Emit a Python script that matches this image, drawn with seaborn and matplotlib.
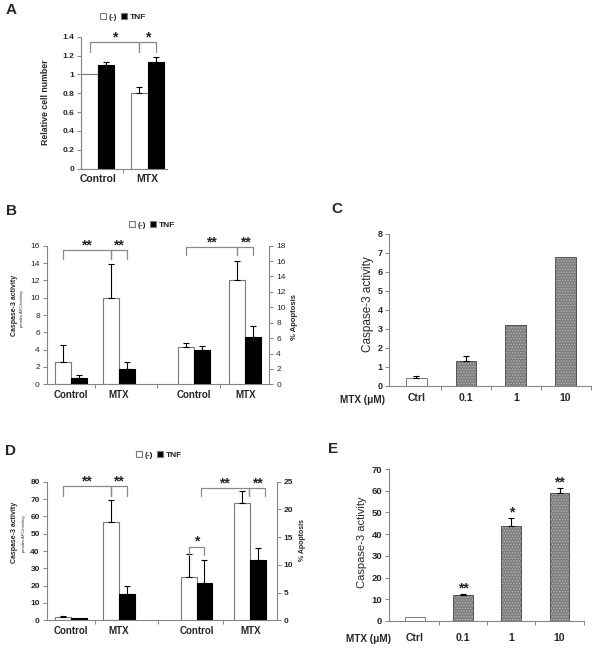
import matplotlib
matplotlib.use('Agg')
import matplotlib.pyplot as plt
import matplotlib.colors as mcolors
import numpy as np
import pandas as pd
import seaborn as sns

sns.set_theme(style='ticks')
plt.rcParams['font.family'] = ['Liberation Sans', 'DejaVu Sans']
plt.rcParams['font.weight'] = 'bold'
plt.rcParams['hatch.linewidth'] = 0.7

# ---------------- data ----------------
conditions = ['(-)', 'TNF']

# A: relative cell number
a_groups = ['Control', 'MTX']
a_pos = [0, 1]
a_neg = [1.00, 0.80]
a_neg_err = [0.0, 0.065]
a_tnf = [1.10, 1.13]
a_tnf_err = [0.03, 0.06]

# B: caspase-3 activity (left axis) and % apoptosis (right axis)
b_labels = ['Control', 'MTX', 'Control', 'MTX']
b_pos_casp = [0, 1]
b_casp_neg = [2.55, 9.95]
b_casp_neg_err = [2.0, 3.95]
b_casp_tnf = [0.70, 1.73]
b_casp_tnf_err = [0.38, 0.82]
b_pos_apop = [2.57, 3.63]
b_apop_neg = [4.9, 13.5]
b_apop_neg_err = [0.45, 2.5]
b_apop_tnf = [4.4, 6.2]
b_apop_tnf_err = [0.6, 1.4]

# C and E: MTX dose response
dose_labels = ['Ctrl', '0.1', '1', '10']
c_vals = [0.39, 1.29, 3.19, 6.77]
c_err = [0.12, 0.26, 0.0, 0.0]

# D
d_labels = ['Control', 'MTX', 'Control', 'MTX']
d_pos_casp = [0, 1]
d_casp_neg = [1.7, 56.5]
d_casp_neg_err = [0.6, 12.7]
d_casp_tnf = [1.5, 15.2]
d_casp_tnf_err = [0.0, 4.6]
d_pos_apop = [2.62, 3.74]
d_apop_neg = [7.75, 21.2]
d_apop_neg_err = [4.2, 2.1]
d_apop_tnf = [6.7, 10.9]
d_apop_tnf_err = [4.1, 2.2]

e_vals = [1.8, 11.8, 43.6, 58.9]
e_err = [0.0, 0.5, 4.0, 2.3]
e_stars = ['', '**', '*', '**']

# ---------------- style ----------------
W, H = 600, 650
SPINE = '#858585'
EDGE = '#7a7a7a'
BRACKET = '#8a8a8a'
GREY = '#7e7e7e'

fig = plt.figure(figsize=(W / 100, H / 100), dpi=100)


def px(x, y):
    return x / W, 1 - y / H


def new_ax(l, t, r, b):
    return fig.add_axes([l / W, 1 - b / H, (r - l) / W, (b - t) / H])


def style_ax(ax, ylabelsize=6, xlabelsize=7.5, xpad=4):
    for s in ['top', 'right']:
        ax.spines[s].set_visible(False)
    for s in ['left', 'bottom']:
        ax.spines[s].set_color(SPINE)
        ax.spines[s].set_linewidth(0.8)
    ax.tick_params(axis='y', direction='out', length=3, width=0.7, color=SPINE,
                   labelsize=ylabelsize, pad=2)
    ax.tick_params(axis='x', which='major', length=0, labelsize=xlabelsize, pad=xpad)
    ax.tick_params(axis='x', which='minor', direction='out', length=3, width=0.7,
                   color=SPINE)
    ax.set(xlabel='', ylabel='')


def real_bars(ax, start=0):
    # seaborn also parks empty legend handles on the axes; keep only drawn bars
    return sorted([p for p in ax.patches[start:] if p.get_width() > 0],
                  key=lambda p: p.get_x())


def pair_bars(ax, pos, neg, neg_err, tnf, tnf_err, legend=False):
    n = len(pos)
    df = pd.DataFrame({'pos': list(pos) * 2,
                       'cond': ['(-)'] * n + ['TNF'] * n,
                       'val': list(neg) + list(tnf),
                       'err': list(neg_err) + list(tnf_err)})
    width = 0.66 / min(np.diff(pos))
    sns.barplot(data=df, x='pos', y='val', hue='cond', hue_order=conditions,
                palette={'(-)': 'white', 'TNF': 'black'}, native_scale=True,
                width=width, errorbar=None, legend=legend, linewidth=0.8,
                edgecolor=EDGE, ax=ax)
    bars = real_bars(ax)
    df = df.sort_values(['pos', 'cond'])
    centers = []
    for p, (_, row) in zip(bars, df.iterrows()):
        xc = p.get_x() + p.get_width() / 2
        centers.append(xc)
        if row['cond'] == 'TNF':
            p.set_edgecolor('black')
        if row['err'] > 0:
            ax.errorbar(xc, p.get_height(), yerr=[[0], [row['err']]], fmt='none',
                        ecolor='black', elinewidth=0.8, capsize=2.2, capthick=0.8)
    return centers


def bracket(ax, x0, x1, lo, hi, stars, size=10):
    ax.plot([x0, x0, x1, x1], [lo, hi, hi, lo], color=BRACKET, lw=0.9, clip_on=False)
    ax.annotate(stars, ((x0 + x1) / 2, hi), xytext=(0, -1.5), textcoords='offset points',
                ha='center', va='bottom', fontsize=size, fontweight='bold',
                annotation_clip=False)


def legend_at(ax, x, y):
    sns.move_legend(ax, 'center', bbox_to_anchor=px(x, y), bbox_transform=fig.transFigure,
                    ncol=2, title=None, frameon=False,
                    prop={'weight': 'bold', 'size': 6},
                    handlelength=0.75, handleheight=0.75, handletextpad=0.3,
                    columnspacing=0.5, borderpad=0)


def dose_bars(ax, vals, errs, width):
    df = pd.DataFrame({'dose': dose_labels, 'val': vals, 'err': errs})
    sns.barplot(data=df, x='dose', y='val', hue='dose', order=dose_labels,
                hue_order=dose_labels, palette=['white'] + [GREY] * 3, legend=False,
                width=width, errorbar=None, linewidth=0.7, edgecolor=EDGE, ax=ax)
    bars = real_bars(ax)
    tops = []
    for i, (p, (_, row)) in enumerate(zip(bars, df.iterrows())):
        xc = p.get_x() + p.get_width() / 2
        if i > 0:
            p.set_edgecolor('#555555')
            p.set_hatch('......')
            if hasattr(p, 'set_hatchcolor'):
                p.set_hatchcolor('#b4b4b4')
            else:
                p._hatch_color = mcolors.to_rgba('#b4b4b4')
        if row['err'] > 0:
            ax.errorbar(xc, p.get_height(), yerr=[[0], [row['err']]], fmt='none',
                        ecolor='black', elinewidth=0.8, capsize=2.2, capthick=0.8)
        tops.append((xc, p.get_height() + row['err']))
    return tops


# ---------------- A ----------------
axA = new_ax(81, 36.7, 166.7, 168.7)
cA = pair_bars(axA, a_pos, a_neg, a_neg_err, a_tnf, a_tnf_err, legend=True)
legend_at(axA, 123, 17)
axA.set_ylim(0, 1.4)
axA.set_yticks(np.arange(0, 1.41, 0.2))
axA.set_yticklabels(['0', '0.2', '0.4', '0.6', '0.8', '1', '1.2', '1.4'])
axA.set_xlim(-0.337, 1.38)
axA.set_xticks(a_pos)
axA.set_xticklabels(a_groups)
axA.set_xticks([0.5], minor=True)
style_ax(axA)
bracket(axA, cA[0], cA[2], 1.24, 1.34, '*')
bracket(axA, cA[2], cA[3], 1.24, 1.34, '*')
fig.text(*px(45, 102.5), 'Relative cell number', rotation=90, ha='center', va='center',
         fontsize=6.3, fontweight='bold')


def twin_panel(top, bottom, right, labels, pos_c, cn, cne, ct, cte, pos_a, an, ane, at, ate,
               ylim_l, ystep_l, ylim_r, ystep_r, xlim):
    ax = new_ax(46.7, top, right, bottom)
    ax2 = ax.twinx()
    cl = pair_bars(ax, pos_c, cn, cne, ct, cte, legend=True)
    cr = pair_bars(ax2, pos_a, an, ane, at, ate, legend=False)
    ax.set_ylim(*ylim_l)
    ax.set_yticks(np.arange(0, ylim_l[1] + 0.01, ystep_l))
    ax2.set_ylim(*ylim_r)
    ax2.set_yticks(np.arange(0, ylim_r[1] + 0.01, ystep_r))
    ax.set_xlim(*xlim)
    ax.set_xticks(list(pos_c) + list(pos_a))
    ax.set_xticklabels(labels)
    mids = [0.5, (pos_c[1] + pos_a[0]) / 2, (pos_a[0] + pos_a[1]) / 2]
    ax.set_xticks(mids, minor=True)
    style_ax(ax, ylabelsize=6, xlabelsize=7, xpad=4)
    for s in ['top', 'left', 'bottom']:
        ax2.spines[s].set_visible(False)
    ax2.spines['right'].set_color(SPINE)
    ax2.spines['right'].set_linewidth(0.8)
    ax2.tick_params(axis='y', direction='out', length=3, width=0.7, color=SPINE,
                    labelsize=6, pad=2)
    ax2.set(xlabel='', ylabel='')
    return ax, ax2, cl, cr


# ---------------- B ----------------
axB, axB2, cBl, cBr = twin_panel(245.7, 384.3, 269.3, b_labels,
                                 b_pos_casp, b_casp_neg, b_casp_neg_err, b_casp_tnf, b_casp_tnf_err,
                                 b_pos_apop, b_apop_neg, b_apop_neg_err, b_apop_tnf, b_apop_tnf_err,
                                 (0, 16), 2, (0, 18), 2, (-0.5, 4.13))
for t in axB.get_yticklabels() + axB2.get_yticklabels():
    t.set_fontweight('normal')
legend_at(axB, 152, 225)
bracket(axB, cBl[0], cBl[2], 14.5, 15.5, '**')
bracket(axB, cBl[2], cBl[3], 14.5, 15.5, '**')
bracket(axB2, cBr[0], cBr[2], 16.8, 17.8, '**')
bracket(axB2, cBr[2], cBr[3], 16.8, 17.8, '**')
fig.text(*px(14.5, 305), 'Caspase-3 activity', rotation=90, ha='center', va='center',
         fontsize=5, fontweight='bold')
fig.text(*px(22.5, 309), 'pmoles AFC/min/mg', rotation=90, ha='center', va='center',
         fontsize=3, fontweight='normal')
fig.text(*px(294, 317), '% Apoptosis', rotation=90, ha='center', va='center',
         fontsize=5.5, fontweight='bold')

# ---------------- D ----------------
axD, axD2, cDl, cDr = twin_panel(481.7, 620.3, 276.7, d_labels,
                                 d_pos_casp, d_casp_neg, d_casp_neg_err, d_casp_tnf, d_casp_tnf_err,
                                 d_pos_apop, d_apop_neg, d_apop_neg_err, d_apop_tnf, d_apop_tnf_err,
                                 (0, 80), 10, (0, 25), 5, (-0.5, 4.29))
legend_at(axD, 159, 455)
bracket(axD, cDl[0], cDl[2], 72, 77.5, '**')
bracket(axD, cDl[2], cDl[3], 72, 77.5, '**')
shift = 0.14
bracket(axD2, cDr[1] - 0.08, cDr[2] + shift, 22.4, 23.8, '**')
bracket(axD2, cDr[2] + shift, cDr[3] + shift, 22.4, 23.8, '**')
bracket(axD2, cDr[0], cDr[1], 11.8, 13.3, '*')
fig.text(*px(15, 532), 'Caspase-3 activity', rotation=90, ha='center', va='center',
         fontsize=5, fontweight='bold')
fig.text(*px(23.5, 534), 'pmoles AFC/min/mg', rotation=90, ha='center', va='center',
         fontsize=3, fontweight='normal')
fig.text(*px(302, 540), '% Apoptosis', rotation=90, ha='center', va='center',
         fontsize=5, fontweight='bold')

# ---------------- C ----------------
axC = new_ax(389.3, 233.7, 591, 385.7)
dose_bars(axC, c_vals, c_err, 0.415)
axC.set_ylim(0, 8)
axC.set_yticks(range(0, 9))
axC.set_xlim(-0.54, 3.51)
axC.set_xticks(range(4))
axC.set_xticklabels(dose_labels)
axC.set_xticks([0.5, 1.5, 2.5, 3.5], minor=True)
style_ax(axC, ylabelsize=6.5, xlabelsize=7.5, xpad=5.5)
fig.text(*px(367.5, 304), 'Caspase-3 activity', rotation=90, ha='center', va='center',
         fontsize=8.5, fontweight='normal')
fig.text(*px(363, 400), 'MTX (\u03bcM)', ha='center', va='center', fontsize=7.2,
         fontweight='bold')

# ---------------- E ----------------
axE = new_ax(389.3, 469, 583.7, 621)
tops = dose_bars(axE, e_vals, e_err, 0.41)
axE.set_ylim(0, 70)
axE.set_yticks(range(0, 71, 10))
axE.set_xlim(-0.53, 3.47)
axE.set_xticks(range(4))
axE.set_xticklabels(dose_labels)
axE.set_xticks([0.5, 1.5, 2.5, 3.5], minor=True)
style_ax(axE, ylabelsize=6.8, xlabelsize=7.5, xpad=8.5)
for (xc, top), s in zip(tops, e_stars):
    if s:
        axE.annotate(s, (xc, top), xytext=(0, -1), textcoords='offset points',
                     ha='center', va='bottom', fontsize=10, fontweight='bold')
fig.text(*px(362, 542.5), 'Caspase-3 activity', rotation=90, ha='center', va='center',
         fontsize=8, fontweight='normal')
fig.text(*px(368, 639), 'MTX (\u03bcM)', ha='center', va='center', fontsize=7.2,
         fontweight='bold')

# ---------------- panel letters ----------------
for letter, (x, y) in zip('ABCDE', [(11.5, 10.5), (11.5, 211), (337, 209), (11, 451), (333, 449)]):
    fig.text(*px(x, y), letter, ha='center', va='center', fontsize=11, fontweight='bold')

fig.savefig('out.png', dpi=100)
plt.close(fig)
